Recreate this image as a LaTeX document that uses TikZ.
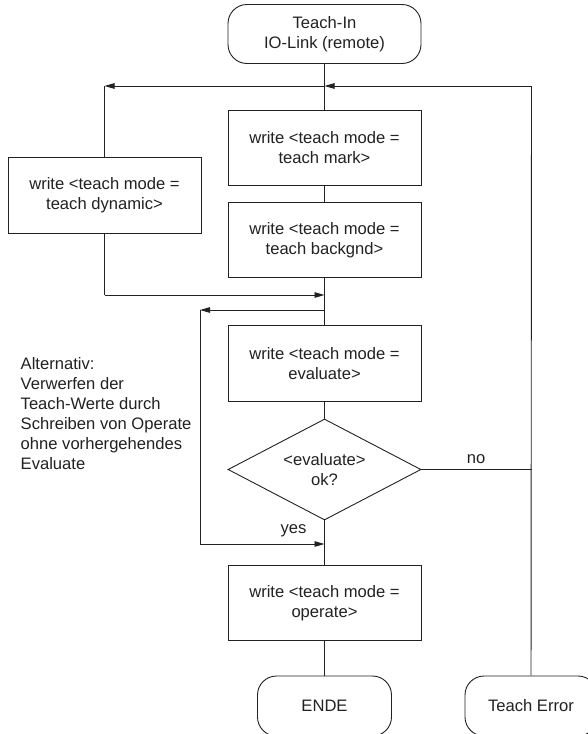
\documentclass[tikz,border=0pt]{standalone}
\usepackage{fontspec}
\setmainfont{Liberation Sans}
\usetikzlibrary{arrows.meta,shapes.geometric}

\definecolor{ink}{HTML}{222222}

\begin{document}
\begin{tikzpicture}[x=1pt,y=-1pt,
  flow/.style={draw=ink,line width=0.9pt},
  arr/.style={-{Triangle[length=10pt,width=5.5pt]}},
  txt/.style={text=ink,font=\fontsize{16.6}{20}\selectfont},
  proc/.style={txt,draw=ink,line width=0.9pt,minimum width=193pt,minimum height=75pt,
               inner sep=0pt,align=center},
  term/.style={proc,rounded corners=19pt},
  decide/.style={txt,diamond,shape aspect=1.9,draw=ink,line width=0.9pt,
                 minimum width=193pt,minimum height=101pt,inner sep=0pt,align=center}]

% page area; the two end terminals run past its lower edge
\clip (0,0) rectangle (588,734);
\fill[white] (0,0) rectangle (588,734);

% nodes
\node[term,minimum height=59pt] (start) at (324.5,34) {Teach-In\\IO-Link (remote)};
\node[proc] (mark)  at (324.5,148) {write <teach mode =\\teach mark>};
\node[proc] (bgnd)  at (324.5,240) {write <teach mode =\\teach backgnd>};
\node[proc,minimum height=76pt] (dyn) at (104.5,195.5) {write <teach mode =\\teach dynamic>};
\node[proc,minimum height=76pt] (eval) at (324.5,363.5) {write <teach mode =\\evaluate>};
\node[decide] (ok)  at (324.5,469.5) {<evaluate>\\ok?};
\node[proc] (oper)  at (324.5,603) {write <teach mode =\\operate>};
\node[term,minimum width=134pt,minimum height=60pt] (ende) at (324.5,706) {ENDE};
\node[term,minimum width=132pt,minimum height=60pt] (terr) at (531,706) {Teach Error};

\node[txt,anchor=north west,align=left,inner sep=0pt] (note) at (20.5,357.4)
  {Alternativ:\\Verwerfen der\\Teach-Werte durch\\Schreiben von Operate\\ohne vorhergehendes\\Evaluate};
\node[txt] (lno)  at (476,459) {no};
\node[txt] (lyes) at (293.5,531) {yes};

% bend points of the connectors
\coordinate (j1) at (324.5,86);
\coordinate (cL) at (104.5,86);
\coordinate (cR) at (531.5,86);
\coordinate (mL) at (104.5,295);
\coordinate (m1) at (324.5,295);
\coordinate (b1) at (324.5,310);
\coordinate (bL) at (200,310);
\coordinate (yL) at (200,544);
\coordinate (y1) at (324.5,544);
\coordinate (nR) at (531.5,469.5);

% main flow
\draw[flow] (start) -- (mark);
\draw[flow] (mark) -- (bgnd);
\draw[flow] (bgnd) -- (eval);
\draw[flow] (eval) -- (ok);
\draw[flow] (ok) -- (oper);
\draw[flow] (oper) -- (ende);

% branch to dynamic teach
\draw[flow,arr] (j1) -- (cL);
\draw[flow] (cL) -- (dyn);
\draw[flow] (dyn) -- (mL);
\draw[flow,arr] (mL) -- (m1);

% bypass of evaluate
\draw[flow,arr] (b1) -- (bL);
\draw[flow] (bL) -- (yL);
\draw[flow,arr] (yL) -- (y1);

% error branch
\draw[flow] (ok.east) -- (nR);
\draw[flow] (cR) -- (terr);
\draw[flow,arr] (cR) -- (j1);
\end{tikzpicture}
\end{document}
